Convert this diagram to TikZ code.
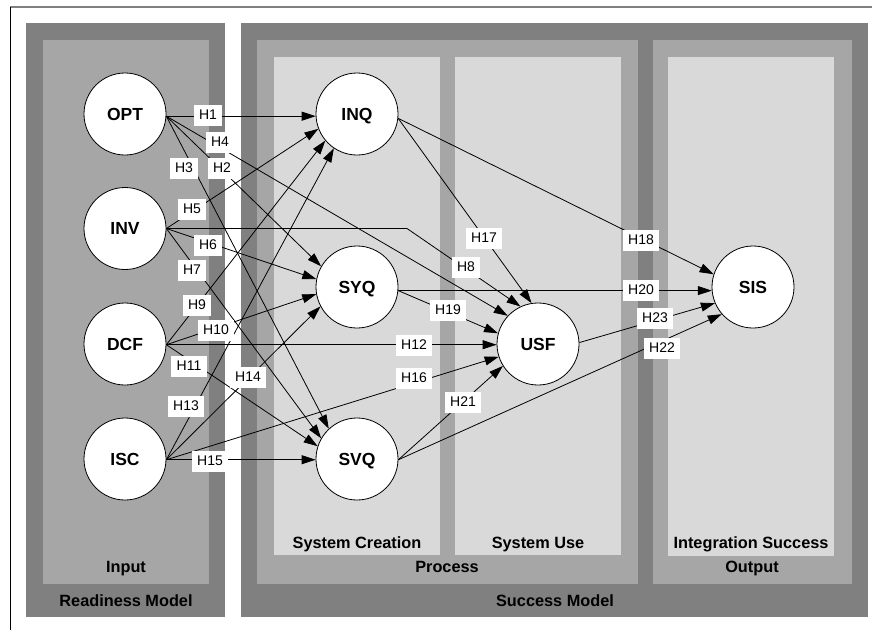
\documentclass[tikz,border=0pt]{standalone}
\usepackage{fontspec}
\setmainfont{Liberation Sans}
\usetikzlibrary{arrows.meta}
\definecolor{darkbox}{HTML}{808080}
\definecolor{midbox}{HTML}{A6A6A6}
\definecolor{lightbox}{HTML}{D9D9D9}
\tikzset{
  construct/.style={circle, draw=black, line width=0.8pt, fill=white,
    minimum size=82pt, inner sep=0pt, text depth=0pt,
    font=\fontsize{17.5}{20}\selectfont\bfseries},
  hyp/.style={fill=white, inner xsep=5.5pt, inner ysep=0pt,
    minimum height=21pt, font=\fontsize{14}{16}\selectfont},
  link/.style={draw=black, line width=0.8pt,
    -{Triangle[length=14pt,width=9pt]}},
  boxtitle/.style={anchor=base, inner sep=0pt,
    font=\fontsize{16.3}{19}\selectfont\bfseries},
}
\begin{document}
\begin{tikzpicture}[x=1pt, y=-1pt]
\useasboundingbox (0,0) rectangle (872,630);

% frame lines
\draw[darkbox, line width=1.2pt] (10,7) -- (872,7);
\draw[black, line width=1pt] (10,7) -- (10,630);

% readiness model
\fill[darkbox] (26,23) rectangle (225,617);
\fill[midbox] (43,40) rectangle (209,584);

% success model
\fill[darkbox] (241,23) rectangle (868,617);
\fill[midbox] (257,40) rectangle (638,584);
\fill[lightbox] (274,57) rectangle (440,555);
\fill[lightbox] (455,57) rectangle (621,555);
\fill[midbox] (653,40) rectangle (852,584);
\fill[lightbox] (668,57) rectangle (834,556);

% box titles
\node[boxtitle] (tInput) at (126,572.7) {Input};
\node[boxtitle] (tReady) at (126,606) {Readiness Model};
\node[boxtitle] (tProcess) at (447,572.7) {Process};
\node[boxtitle] (tOutput) at (752,572.7) {Output};
\node[boxtitle] (tSuccess) at (555,606.5) {Success Model};
\node[boxtitle] (tCreate) at (357,548.3) {System Creation};
\node[boxtitle] (tUse) at (538,548.3) {System Use};
\node[boxtitle] (tInteg) at (751,548.3) {Integration Success};

% constructs
\node[construct] (OPT) at (125,114) {OPT};
\node[construct] (INV) at (125,228.5) {INV};
\node[construct] (DCF) at (125,344) {DCF};
\node[construct] (ISC) at (125,459) {ISC};
\node[construct] (INQ) at (357,114) {INQ};
\node[construct] (SYQ) at (357,287) {SYQ};
\node[construct] (SVQ) at (357,459) {SVQ};
\node[construct] (USF) at (538,344) {USF};
\node[construct] (SIS) at (753,287) {SIS};
\coordinate (bend8) at (407,228.5);

% hypothesised paths
\path[link] (OPT.-3) -- (INQ.183);
\path[link] (OPT.-3) -- (SYQ.150);
\path[link] (OPT.-3) -- (SVQ.133);
\path[link] (OPT.-3) -- (USF.137);
\path[link] (INV.0) -- (INQ.201);
\path[link] (INV.0) -- (SYQ.169);
\path[link] (INV.0) -- (SVQ.150);
\path[link] (INV.0) -- (bend8) -- (USF.115);
\path[link] (DCF.-1) -- (INQ.220);
\path[link] (DCF.-1) -- (SYQ.190);
\path[link] (DCF.-1) -- (SVQ.162);
\path[link] (DCF.-1) -- (USF.181);
\path[link] (ISC.-1) -- (INQ.236);
\path[link] (ISC.-1) -- (SYQ.208);
\path[link] (ISC.-1) -- (SVQ.181);
\path[link] (ISC.-1) -- (USF.198);
\path[link] (INQ.-6) -- (USF.99);
\path[link] (INQ.-6) -- (SIS.162);
\path[link] (SYQ.-5) -- (USF.165);
\path[link] (SYQ.-5) -- (SIS.185);
\path[link] (SVQ.-1) -- (USF.212);
\path[link] (SVQ.-1) -- (SIS.221);
\path[link] (USF.2) -- (SIS.203);

% hypothesis labels
\node[hyp] (h1) at (208,115) {H1};
\node[hyp] (h2) at (222,168) {H2};
\node[hyp] (h3) at (184,168) {H3};
\node[hyp] (h4) at (220,142) {H4};
\node[hyp] (h5) at (192,209) {H5};
\node[hyp] (h6) at (208,245) {H6};
\node[hyp] (h7) at (192,270) {H7};
\node[hyp] (h8) at (466,267) {H8};
\node[hyp] (h9) at (197,305) {H9};
\node[hyp] (h10) at (216,330) {H10};
\node[hyp] (h11) at (189,366) {H11};
\node[hyp] (h12) at (414,345) {H12};
\node[hyp] (h13) at (186,406) {H13};
\node[hyp] (h14) at (248,377) {H14};
\node[hyp] (h15) at (210,461) {H15};
\node[hyp] (h16) at (414,378) {H16};
\node[hyp] (h17) at (484,238) {H17};
\node[hyp] (h18) at (641,240) {H18};
\node[hyp] (h19) at (448,310) {H19};
\node[hyp] (h20) at (641,290) {H20};
\node[hyp] (h21) at (463,402) {H21};
\node[hyp] (h22) at (662,348) {H22};
\node[hyp] (h23) at (655,318) {H23};
\end{tikzpicture}
\end{document}
